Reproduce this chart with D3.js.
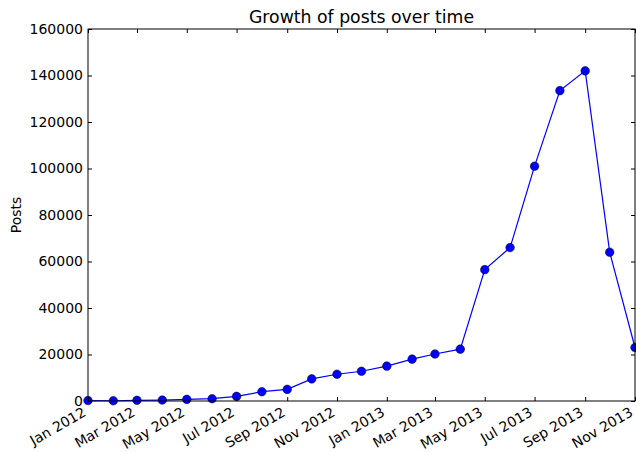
<!DOCTYPE html>
<html lang="en">
  <head>
    <meta charset="utf-8">
    <title>Growth of posts over time</title>
    <script src="https://d3js.org/d3.v7.min.js"></script>
    <style>
      body { margin: 0; background: #fff; }
      text { font-family: "DejaVu Sans", sans-serif; fill: #000; }
    </style>
  </head>
  <body>
    <script>
      // monthly post counts, first of each month
      var months = ["2012-01", "2012-02", "2012-03", "2012-04", "2012-05", "2012-06",
                    "2012-07", "2012-08", "2012-09", "2012-10", "2012-11", "2012-12",
                    "2013-01", "2013-02", "2013-03", "2013-04", "2013-05", "2013-06",
                    "2013-07", "2013-08", "2013-09", "2013-10", "2013-11"];
      var posts = [200, 100, 300, 400, 700, 1000,
                   2000, 4000, 5000, 9500, 11500, 12800,
                   15000, 18000, 20200, 22300, 56500, 66000,
                   101000, 133500, 142000, 64000, 23000];
      var yTicks = [0, 20000, 40000, 60000, 80000, 100000, 120000, 140000, 160000];
      var xTickMonths = ["2012-01", "2012-03", "2012-05", "2012-07", "2012-09", "2012-11",
                         "2013-01", "2013-03", "2013-05", "2013-07", "2013-09", "2013-11"];

      var width = 636,
          height = 452,
          margin = { left: 88, right: 635, top: 29, bottom: 401 };

      var parse = d3.timeParse("%Y-%m");
      var data = months.map(function(m, i) { return { date: parse(m), value: posts[i] }; });

      var x = d3.scaleTime()
          .domain([parse("2012-01"), parse("2013-11")])
          .range([margin.left, margin.right]);
      var y = d3.scaleLinear()
          .domain([0, 160000])
          .range([margin.bottom, margin.top]);

      var svg = d3.select("body").append("svg")
          .attr("width", width)
          .attr("height", height);

      // data line + markers
      svg.append("path")
          .datum(data)
          .attr("fill", "none")
          .attr("stroke", "#0000ff")
          .attr("stroke-width", 1.2)
          .attr("d", d3.line()
            .x(function(d) { return x(d.date); })
            .y(function(d) { return y(d.value); }));

      svg.selectAll("circle")
          .data(data)
        .enter().append("circle")
          .attr("cx", function(d) { return x(d.date); })
          .attr("cy", function(d) { return y(d.value); })
          .attr("r", 4.3)
          .attr("fill", "#0000ff")
          .attr("stroke", "#000")
          .attr("stroke-width", 0.5);

      // axes, ticks inward on all four sides (classic matplotlib)
      var xTicks = xTickMonths.map(parse);
      var tick = 4;

      var xb = svg.append("g").attr("transform", "translate(0," + margin.bottom + ")")
          .call(d3.axisBottom(x).tickValues(xTicks).tickSizeInner(-tick).tickSizeOuter(0)
            .tickFormat(d3.timeFormat("%b %Y")));
      xb.select(".domain").remove();
      xb.selectAll("text")
          .attr("font-size", 14)
          .attr("text-anchor", "end")
          .attr("dy", null)
          .attr("y", 0)
          .attr("transform", "translate(-1.5,14) rotate(-30)");

      var xt = svg.append("g").attr("transform", "translate(0," + margin.top + ")")
          .call(d3.axisTop(x).tickValues(xTicks).tickSizeInner(-tick).tickSizeOuter(0).tickFormat(""));
      xt.select(".domain").remove();

      var yl = svg.append("g").attr("transform", "translate(" + margin.left + ",0)")
          .call(d3.axisLeft(y).tickValues(yTicks).tickSizeInner(-tick).tickSizeOuter(0)
            .tickFormat(d3.format("d")));
      yl.select(".domain").remove();
      yl.selectAll("text").attr("font-size", 14).attr("x", -5);

      var yr = svg.append("g").attr("transform", "translate(" + margin.right + ",0)")
          .call(d3.axisRight(y).tickValues(yTicks).tickSizeInner(-tick).tickSizeOuter(0).tickFormat(""));
      yr.select(".domain").remove();

      svg.selectAll(".tick line").attr("stroke", "#000");
      svg.selectAll(".tick text").attr("fill", "#000").attr("font-family", "DejaVu Sans, sans-serif");

      svg.append("rect")
          .attr("x", margin.left)
          .attr("y", margin.top)
          .attr("width", margin.right - margin.left)
          .attr("height", margin.bottom - margin.top)
          .attr("fill", "none")
          .attr("stroke", "#000")
          .attr("stroke-width", 1);

      svg.append("text")
          .attr("x", (margin.left + margin.right) / 2)
          .attr("y", 23)
          .attr("text-anchor", "middle")
          .attr("font-size", 17.3)
          .text("Growth of posts over time");

      svg.append("text")
          .attr("transform", "translate(21," + ((margin.top + margin.bottom) / 2) + ") rotate(-90)")
          .attr("text-anchor", "middle")
          .attr("font-size", 14)
          .text("Posts");
    </script>
  </body>
</html>
